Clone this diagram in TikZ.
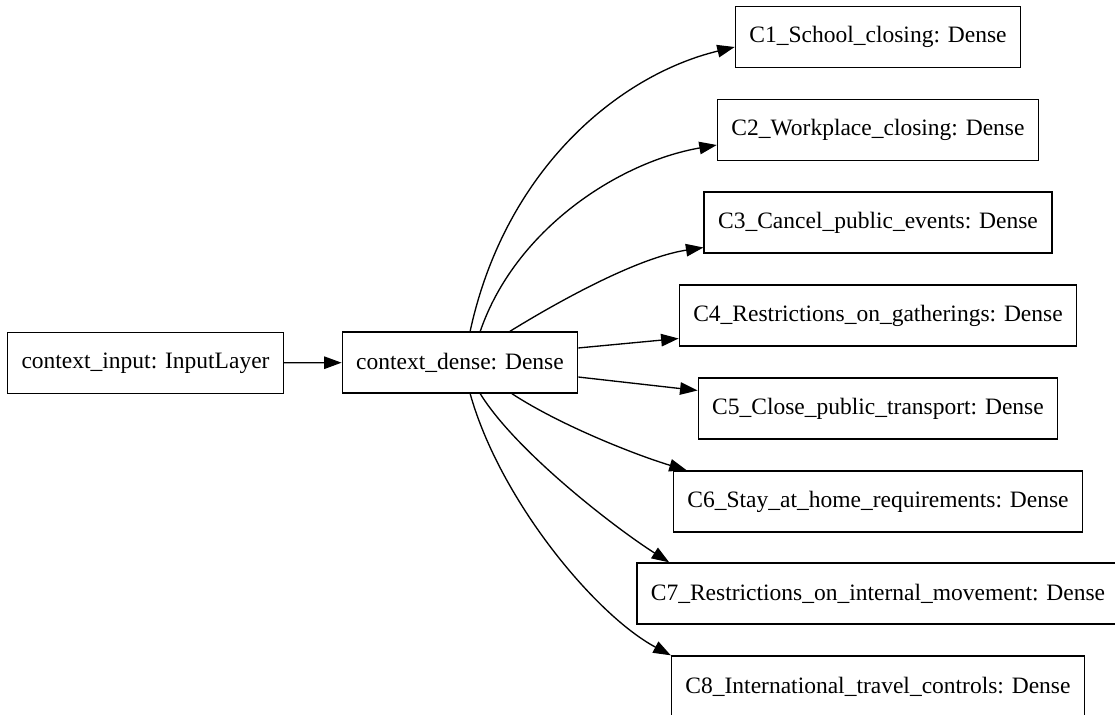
\documentclass[tikz,border=0pt]{standalone}
\usepackage{fontspec}
\setmainfont{Liberation Serif}
\usepackage{tikz}
\usetikzlibrary{arrows.meta, calc}

\begin{document}
\begin{tikzpicture}[x=0.6pt, y=-0.6pt, line width=0.8pt,
    layer/.style={draw, rectangle, minimum height=36.6pt, inner xsep=8.4pt, inner ysep=0pt, font=\fontsize{14.1}{17}\selectfont},
    conn/.style={-{Triangle[length=10.5pt, width=7.5pt]}}]
  \useasboundingbox (0, 0) rectangle (1115, 715);

  \node [layer] (input) at (145.5, 363) {context\_input: InputLayer};
  \node [layer] (dense) at (460, 362.5) {context\_dense: Dense};

  \node [layer] (c1) at (878, 37) {C1\_School\_closing: Dense};
  \node [layer] (c2) at (878, 130) {C2\_Workplace\_closing: Dense};
  \node [layer] (c3) at (878, 222.5) {C3\_Cancel\_public\_events: Dense};
  \node [layer] (c4) at (878, 315.5) {C4\_Restrictions\_on\_gatherings: Dense};
  \node [layer] (c5) at (878, 408.5) {C5\_Close\_public\_transport: Dense};
  \node [layer] (c6) at (878, 501.5) {C6\_Stay\_at\_home\_requirements: Dense};
  \node [layer] (c7) at (878, 593.5) {C7\_Restrictions\_on\_internal\_movement: Dense};
  \node [layer] (c8) at (878, 686.5) {C8\_International\_travel\_controls: Dense};

  \draw [conn] (input) -- (dense);

  % fan out from the dense layer
  \draw [conn] (dense.72) .. controls +(35, -162) and +(-116, 28) .. ($(c1.west)+(0, 10)$);
  \draw [conn] (dense.57) .. controls +(35, -102) and +(-98, 17) .. ($(c2.west)+(0, 15)$);
  \draw [conn] (dense.32) .. controls +(52, -32) and +(-65, 10) .. ($(c3.west)+(0, 25)$);
  \draw [conn] (dense.7) -- ($(c4.west)+(0, 23)$);
  \draw [conn] (dense.-7) -- ($(c5.west)+(0, -18)$);
  \draw [conn] (dense.-31) .. controls +(49, 32) and +(-50, -15) .. ($(c6.north west)+(14, 0)$);
  \draw [conn] (dense.-57) .. controls +(35, 57) and +(-55, -35) .. ($(c7.north west)+(33, 0)$);
  \draw [conn] (dense.-72) .. controls +(30, 107) and +(-75, -40) .. (c8.north west);

\end{tikzpicture}
\end{document}
